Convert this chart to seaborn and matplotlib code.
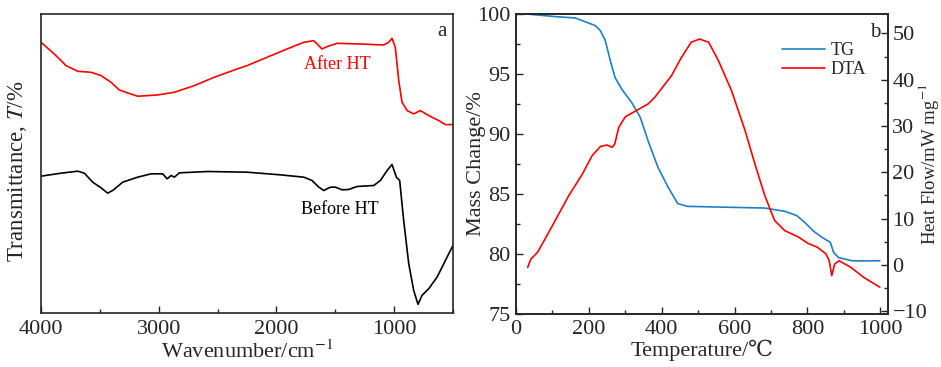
import numpy as np
import pandas as pd
import matplotlib
matplotlib.use("Agg")
import matplotlib.pyplot as plt
import seaborn as sns
from matplotlib.ticker import MultipleLocator

# FTIR, after heat treatment (red)
after_wn = [4000, 3887, 3788, 3688, 3575, 3490, 3405, 3335, 3264, 3179, 3009, 2867,
            2698, 2528, 2358, 2250, 2080, 1910, 1768, 1683, 1649, 1613, 1570, 1485,
            1287, 1089, 1046, 1018, 990, 961, 933, 890, 834, 777, 706, 621, 565, 500]
after_t = [81.3, 77.8, 74.3, 72.6, 72.3, 71.3, 69.3, 67.0, 66.1, 65.1, 65.5, 66.3,
           68.3, 70.8, 73.0, 74.3, 76.8, 79.3, 81.3, 81.8, 80.6, 79.3, 80.0, 81.0,
           80.8, 80.5, 81.3, 82.5, 79.8, 69.8, 63.3, 60.8, 59.8, 60.8, 59.3, 57.8, 56.6, 56.6]

# FTIR, before heat treatment (black)
before_wn = [4000, 3830, 3688, 3632, 3561, 3490, 3434, 3391, 3306, 3179, 3065, 2966,
             2929, 2895, 2867, 2825, 2584, 2250, 1967, 1768, 1697, 1640, 1598, 1541,
             1499, 1442, 1386, 1315, 1173, 1117, 1060, 1018, 981, 953, 919, 876, 834,
             797, 763, 706, 635, 578, 536, 500]
before_t = [41.1, 42.0, 42.6, 42.0, 39.3, 37.6, 36.0, 36.8, 39.3, 40.8, 41.8, 41.8,
            40.3, 41.3, 40.8, 42.1, 42.5, 42.3, 41.5, 40.8, 39.8, 37.8, 36.8, 37.8,
            37.8, 37.0, 37.1, 38.0, 38.3, 39.8, 42.8, 44.6, 40.8, 39.8, 27.8, 14.8, 6.8,
            2.6, 5.3, 7.3, 10.8, 14.8, 17.8, 20.3]

# TG (mass change, %)
tg_temp = [30, 109, 163, 218, 232, 245, 259, 272, 290, 318, 341, 363, 390, 417, 444,
           471, 517, 683, 738, 771, 794, 817, 840, 863, 872, 886, 922, 958, 999]
tg_mass = [100.0, 99.78, 99.67, 99.03, 98.6, 97.8, 96.1, 94.7, 93.75, 92.6, 91.4,
           89.4, 87.2, 85.6, 84.2, 83.97, 83.94, 83.83, 83.56, 83.2, 82.6, 81.9, 81.4,
           80.97, 80.14, 79.7, 79.44, 79.42, 79.44]

# DTA (heat flow, mW/mg)
dta_temp = [32, 41, 59, 100, 145, 182, 209, 232, 250, 264, 271, 282, 300, 327, 363,
            381, 427, 454, 481, 504, 529, 556, 592, 629, 656, 683, 710, 738, 774, 801,
            828, 851, 860, 867, 875, 887, 919, 955, 999]
dta_flow = [-0.5, 1.3, 2.7, 8.5, 15.0, 19.6, 23.6, 25.6, 25.9, 25.4, 26.1, 29.7, 32.0,
            33.2, 34.8, 36.2, 40.9, 44.8, 48.1, 48.8, 48.1, 44.1, 37.6, 29.0, 21.8, 15.0,
            9.6, 7.4, 6.1, 4.7, 3.8, 2.4, 0.9, -2.3, 0.2, 0.9, -0.5, -2.7, -4.8]

ftir = pd.concat([
    pd.DataFrame({"wn": after_wn, "T": after_t, "sample": "After HT"}),
    pd.DataFrame({"wn": before_wn, "T": before_t, "sample": "Before HT"}),
])

sns.set_theme(style="ticks")
plt.rcParams["font.family"] = ["Liberation Serif", "DejaVu Serif", "DejaVu Sans"]
plt.rcParams["mathtext.fontset"] = "stix"
plt.rcParams["axes.linewidth"] = 1.2
plt.rcParams["xtick.direction"] = "in"
plt.rcParams["ytick.direction"] = "in"

fs = 16
fig = plt.figure(figsize=(9.41, 3.67), dpi=100)
ax1 = fig.add_axes([0.0436, 0.1471, 0.4378, 0.8147])
ax2 = fig.add_axes([0.5484, 0.1444, 0.3955, 0.8174])

# Panel a: FTIR
sns.lineplot(data=ftir, x="wn", y="T", hue="sample",
             palette={"After HT": "red", "Before HT": "black"},
             legend=False, linewidth=1.2, ax=ax1)
ax1.set_xlim(4000, 500)
ax1.set_ylim(0, 89.8)
ax1.set_yticks([])
ax1.xaxis.set_major_locator(MultipleLocator(1000))
ax1.xaxis.set_minor_locator(MultipleLocator(500))
ax1.tick_params(axis="x", which="major", length=5, width=1.0, labelsize=fs, pad=5)
ax1.tick_params(axis="x", which="minor", length=3, width=1.0)
ax1.set_xlabel("Wavenumber/cm$^{-1}$", fontsize=fs, labelpad=1)
ax1.set_ylabel("Transmittance, $T$/%", fontsize=16.5)
ax1.yaxis.set_label_coords(-0.03, 0.475)
ax1.text(1480, 74.5, "After HT", color="red", fontsize=13, ha="center", va="center")
ax1.text(1460, 31.2, "Before HT", color="black", fontsize=13, ha="center", va="center")
ax1.text(595, 84.5, "a", fontsize=15, ha="center", va="center")

# Panel b: TG / DTA
blue = "#1f7fc4"
sns.lineplot(x=tg_temp, y=tg_mass, color=blue, linewidth=1.2, ax=ax2, label="TG")
ax3 = ax2.twinx()
sns.lineplot(x=dta_temp, y=dta_flow, color="red", linewidth=1.2, ax=ax3, label="DTA")
ax2.set_xlim(0, 1022)
ax2.set_ylim(75, 100)
ax3.set_ylim(-10.6, 54.2)
ax2.xaxis.set_major_locator(MultipleLocator(200))
ax2.xaxis.set_minor_locator(MultipleLocator(100))
ax2.yaxis.set_major_locator(MultipleLocator(5))
ax2.yaxis.set_minor_locator(MultipleLocator(2.5))
ax3.yaxis.set_major_locator(MultipleLocator(10))
ax3.yaxis.set_minor_locator(MultipleLocator(5))
ax2.tick_params(which="major", length=5, width=1.0, labelsize=fs, pad=4)
ax2.tick_params(which="minor", length=3, width=1.0)
ax3.tick_params(which="major", length=5, width=1.0, labelsize=fs, pad=3)
ax3.tick_params(which="minor", length=3, width=1.0)
ax2.set_xlabel("Temperature/℃", fontsize=fs, labelpad=1)
ax2.set_ylabel("Mass Change/%", fontsize=fs)
ax2.yaxis.set_label_coords(-0.08, 0.5)
ax3.set_ylabel("Heat Flow/mW mg$^{-1}$", fontsize=13.5)
ax3.yaxis.set_label_coords(1.075, 0.5)
ax2.text(0.965, 0.937, "b", transform=ax2.transAxes, fontsize=15, ha="center", va="center")

h1, l1 = ax2.get_legend_handles_labels()
h2, l2 = ax3.get_legend_handles_labels()
if ax3.get_legend():
    ax3.get_legend().remove()
ax2.legend(h1 + h2, l1 + l2, loc="upper right", bbox_to_anchor=(0.96, 0.93),
           frameon=False, fontsize=13, handlelength=2.4, handletextpad=0.3,
           labelspacing=0.1, borderaxespad=0)

fig.savefig("out.png", dpi=100)
